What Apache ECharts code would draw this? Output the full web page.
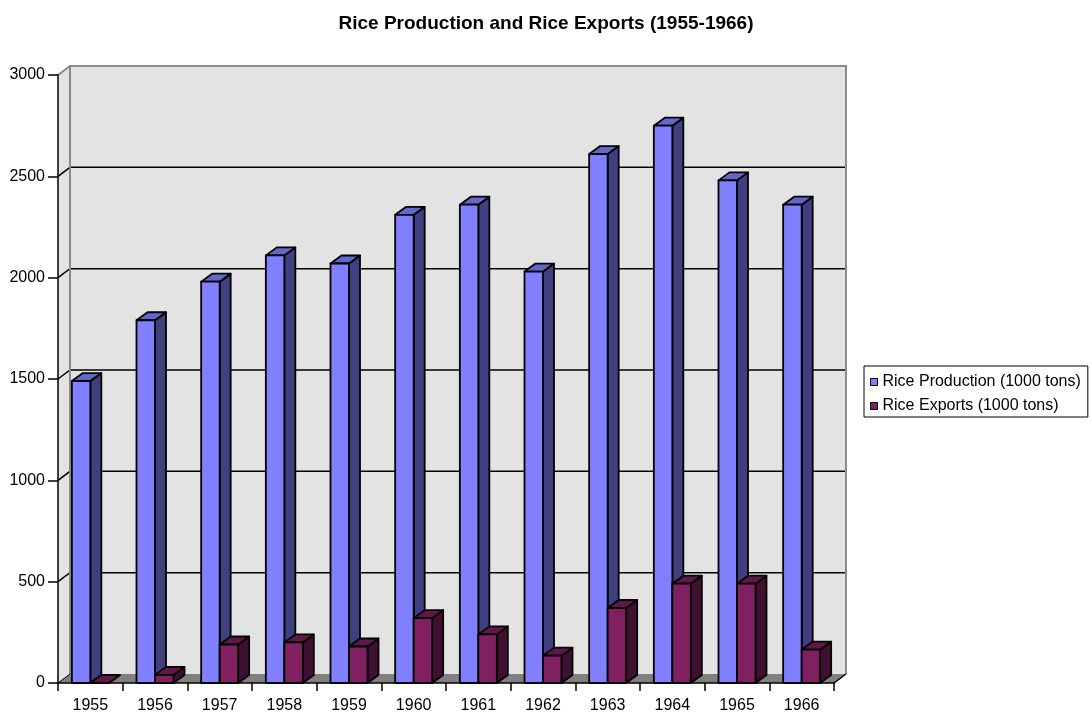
<!DOCTYPE html>
<html>
<head>
<meta charset="utf-8">
<script src="https://cdn.jsdelivr.net/npm/echarts@6/dist/echarts.min.js"></script>
<style>
html,body{margin:0;padding:0;background:#fff;}
#chart{width:1092px;height:715px;}
</style>
</head>
<body>
<div id="chart"></div>
<script>
const categories = ['1955','1956','1957','1958','1959','1960','1961','1962','1963','1964','1965','1966'];
const production = [1490, 1790, 1980, 2110, 2070, 2310, 2360, 2030, 2610, 2750, 2480, 2360];
const exportsData = [0, 40, 190, 200, 180, 320, 240, 135, 370, 490, 490, 165];
const yTicks = [0, 500, 1000, 1500, 2000, 2500, 3000];
const seriesNames = ['Rice Production (1000 tons)', 'Rice Exports (1000 tons)'];

const WALL_DX = 12, WALL_DY = -9;
const BAR_DX = 11, BAR_DY = -8;
const FONT = 'Liberation Sans, Arial, sans-serif';

const prodColors = { front: '#8080ff', side: '#404080', top: '#6068cc' };
const expColors = { front: '#802060', side: '#401030', top: '#601848' };

function bgRender(params, api) {
  const cs = params.coordSys;
  const x0 = cs.x, x1 = cs.x + cs.width, yB = cs.y + cs.height, yT = cs.y;
  const children = [];
  children.push({ type: 'polygon', shape: { points: [[x0, yB], [x0 + WALL_DX, yB + WALL_DY], [x0 + WALL_DX, yT + WALL_DY], [x0, yT]] }, style: { fill: '#e3e3e3', stroke: null } });
  children.push({ type: 'rect', shape: { x: x0 + WALL_DX, y: yT + WALL_DY, width: cs.width, height: cs.height }, style: { fill: '#e3e3e3', stroke: null } });
  yTicks.forEach(function (t) {
    if (t === yTicks[0] || t === yTicks[yTicks.length - 1]) return;
    const y = api.coord([0, t])[1];
    children.push({ type: 'polyline', shape: { points: [[x0, y], [x0 + WALL_DX, y + WALL_DY], [x1 + WALL_DX, y + WALL_DY]] }, style: { stroke: '#000', lineWidth: 1.5, fill: null } });
  });
  children.push({ type: 'polyline', shape: { points: [[x0, yT], [x0 + WALL_DX, yT + WALL_DY], [x1 + WALL_DX, yT + WALL_DY], [x1 + WALL_DX, yB + WALL_DY]] }, style: { stroke: '#8a8a8a', lineWidth: 2, fill: null } });
  children.push({ type: 'line', shape: { x1: x0 + WALL_DX, y1: yT + WALL_DY, x2: x0 + WALL_DX, y2: yB + WALL_DY }, style: { stroke: '#8a8a8a', lineWidth: 2 } });
  children.push({ type: 'polygon', shape: { points: [[x0, yB], [x1, yB], [x1 + WALL_DX, yB + WALL_DY], [x0 + WALL_DX, yB + WALL_DY]] }, style: { fill: '#808080', stroke: null } });
  children.push({ type: 'line', shape: { x1: x1, y1: yB, x2: x1 + WALL_DX, y2: yB + WALL_DY }, style: { stroke: '#000', lineWidth: 1.5 } });
  children.push({ type: 'line', shape: { x1: x0, y1: yB, x2: x0 + WALL_DX, y2: yB + WALL_DY }, style: { stroke: '#000', lineWidth: 1 } });
  return { type: 'group', children: children };
}

function makeBarRender(sideSign, colors) {
  return function (params, api) {
    const idx = api.value(0), v = api.value(1);
    const top = api.coord([idx, v]);
    const bot = api.coord([idx, 0]);
    const bw = api.size([1, 0])[0];
    const w = bw * 0.286;
    const x0 = sideSign < 0 ? top[0] - w : top[0];
    const x1 = x0 + w;
    const yT = top[1], yB = bot[1];
    const st = { stroke: '#000', lineWidth: 1.8, lineJoin: 'round' };
    return {
      type: 'group',
      children: [
        { type: 'polygon', shape: { points: [[x1, yB], [x1 + BAR_DX, yB + BAR_DY], [x1 + BAR_DX, yT + BAR_DY], [x1, yT]] }, style: Object.assign({ fill: colors.side }, st) },
        { type: 'polygon', shape: { points: [[x0, yT], [x1, yT], [x1 + BAR_DX, yT + BAR_DY], [x0 + BAR_DX, yT + BAR_DY]] }, style: Object.assign({ fill: colors.top }, st) },
        { type: 'polygon', shape: { points: [[x0, yB], [x1, yB], [x1, yT], [x0, yT]] }, style: Object.assign({ fill: colors.front }, st) }
      ]
    };
  };
}

const chart = echarts.init(document.getElementById('chart'), null, { renderer: 'canvas' });
chart.setOption({
  animation: false,
  backgroundColor: '#ffffff',
  title: {
    text: 'Rice Production and Rice Exports (1955-1966)',
    left: 'center', top: 9,
    textStyle: { fontFamily: FONT, fontSize: 19, fontWeight: 'bold', color: '#000' }
  },
  legend: {
    orient: 'vertical', left: 864, top: 366,
    padding: [8, 7, 3, 6], itemGap: 8, itemWidth: 7, itemHeight: 7,
    backgroundColor: '#fff', borderColor: '#000', borderWidth: 1,
    textStyle: { fontFamily: FONT, fontSize: 16, color: '#000' },
    icon: 'rect',
    data: [
      { name: seriesNames[0], itemStyle: { color: prodColors.front, borderColor: '#000', borderWidth: 1 } },
      { name: seriesNames[1], itemStyle: { color: expColors.front, borderColor: '#000', borderWidth: 1 } }
    ]
  },
  grid: { left: 58, right: 258, top: 75, bottom: 32, containLabel: false },
  xAxis: {
    type: 'category', data: categories, z: 10,
    axisLine: { show: true, lineStyle: { color: '#000', width: 1.5 } },
    axisTick: { show: true, interval: 0, length: 8, lineStyle: { color: '#000', width: 1.5 } },
    axisLabel: { interval: 0, margin: 15, fontFamily: FONT, fontSize: 16, color: '#000' },
    splitLine: { show: false }
  },
  yAxis: {
    type: 'value', min: 0, max: 3000, interval: 500, z: 10,
    axisLine: { show: true, lineStyle: { color: '#000', width: 1.5 } },
    axisTick: { show: true, length: 10, lineStyle: { color: '#000', width: 1.5 } },
    axisLabel: { margin: 13, fontFamily: FONT, fontSize: 16, color: '#000', formatter: function (v) { return String(v); } },
    splitLine: { show: false }
  },
  series: [
    { type: 'custom', name: '__bg', renderItem: bgRender, data: [[0, 0]], encode: { x: 0, y: 1 }, z: 1, silent: true, clip: false },
    { type: 'custom', name: seriesNames[0], renderItem: makeBarRender(-1, prodColors), data: production.map(function (v, i) { return [i, v]; }), encode: { x: 0, y: 1 }, z: 3, itemStyle: { color: prodColors.front }, clip: false },
    { type: 'custom', name: seriesNames[1], renderItem: makeBarRender(1, expColors), data: exportsData.map(function (v, i) { return [i, v]; }), encode: { x: 0, y: 1 }, z: 4, itemStyle: { color: expColors.front }, clip: false }
  ]
});
</script>
</body>
</html>
